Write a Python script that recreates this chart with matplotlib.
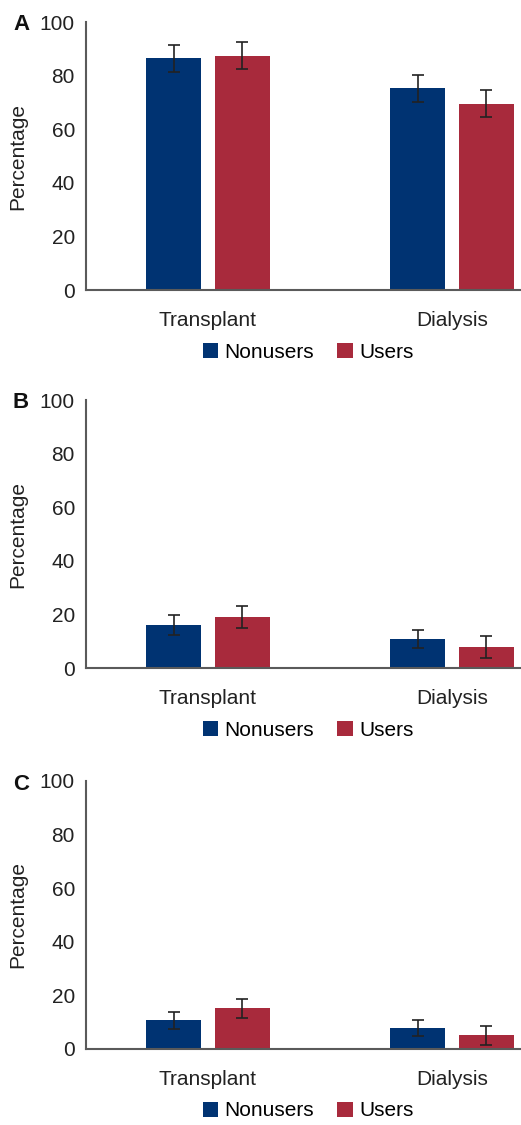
import numpy as np
import matplotlib
matplotlib.use("Agg")
import matplotlib.pyplot as plt
from matplotlib.patches import Patch

plt.rcParams['font.family'] = ['Liberation Sans', 'DejaVu Sans']

categories = ["Transplant", "Dialysis"]
series_names = ["Nonusers", "Users"]
panel_letters = ["A", "B", "C"]

# values: [transplant, dialysis]
nonusers_A = [86.5, 75.3]
users_A = [87.5, 69.5]
nonusers_A_err = [5.0, 5.0]
users_A_err = [5.0, 5.1]

nonusers_B = [16.0, 10.8]
users_B = [19.0, 7.8]
nonusers_B_err = [3.6, 3.4]
users_B_err = [4.1, 4.2]

nonusers_C = [10.7, 8.0]
users_C = [15.2, 5.1]
nonusers_C_err = [3.1, 3.0]
users_C_err = [3.6, 3.5]

yticks = [0, 20, 40, 60, 80, 100]

blue = "#003372"
red = "#A82A3C"
spine_col = "#5a5a5a"
txt_col = "#222222"
fs = 15

panels = [
    (nonusers_A, users_A, nonusers_A_err, users_A_err),
    (nonusers_B, users_B, nonusers_B_err, users_B_err),
    (nonusers_C, users_C, nonusers_C_err, users_C_err),
]

fig = plt.figure(figsize=(5.21, 11.25), dpi=100)

W, H = 521.0, 1125.0
# axis bottom (zero line) for each panel, pixels from top
zero_px = [290, 668, 1049]
height_px = 268
left_px = 86

x = np.arange(len(categories))
bw = 0.225
off = 0.141
ekw = dict(ecolor=txt_col, elinewidth=1.2, capsize=4.5, capthick=1.2)

for i, (nu, us, nue, use) in enumerate(panels):
    ax = fig.add_axes([left_px / W, 1 - zero_px[i] / H, 1 - left_px / W, height_px / H])
    ax.bar(x - off, nu, bw, color=blue, yerr=nue, error_kw=ekw)
    ax.bar(x + off, us, bw, color=red, yerr=use, error_kw=ekw)
    ax.set_xlim(-0.5, 1.283)
    ax.set_ylim(0, 100)
    ax.set_yticks(yticks)
    ax.set_xticks(x)
    ax.set_xticklabels(categories)
    ax.tick_params(axis='both', length=0, labelsize=fs, colors=txt_col)
    ax.tick_params(axis='y', pad=8)
    ax.tick_params(axis='x', pad=15)
    for s in ["top", "right"]:
        ax.spines[s].set_visible(False)
    for s in ["left", "bottom"]:
        ax.spines[s].set_color(spine_col)
        ax.spines[s].set_linewidth(1.5)
    ax.set_ylabel("Percentage", fontsize=fs, color=txt_col, labelpad=9)

    # panel letter at a fixed spot of the figure
    fig.text(13 / W, 1 - (zero_px[i] - height_px + 3) / H, panel_letters[i], fontsize=16,
             fontweight="bold", color="#111111", ha="left", va="center")

    handles = [Patch(facecolor=blue), Patch(facecolor=red)]
    ax.legend(handles, series_names, loc="center",
              bbox_to_anchor=((308 - left_px) / (W - left_px), -62 / height_px),
              ncol=2, frameon=False, fontsize=fs, handlelength=0.75, handleheight=0.75,
              handletextpad=0.3, columnspacing=1.1, borderpad=0)

fig.savefig("out.png", dpi=100)
